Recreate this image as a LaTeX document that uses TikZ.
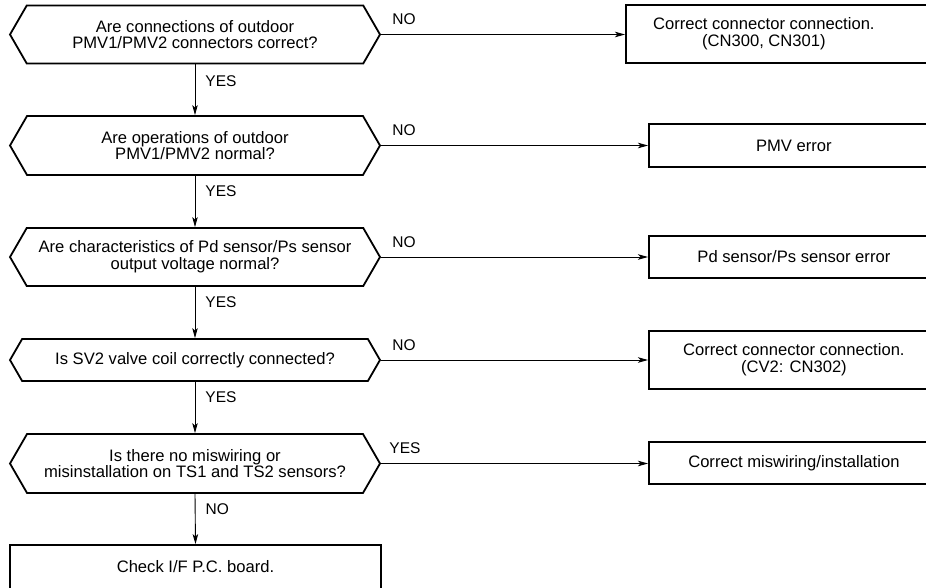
\documentclass[tikz,border=0pt]{standalone}
\usepackage{fontspec}
\setmainfont{Liberation Sans}
\usepackage{tikz}
\usetikzlibrary{shapes.symbols,arrows.meta,positioning,calc}

\begin{document}
\begin{tikzpicture}[
    x=1pt, y=-1pt,
    font=\fontsize{16.6pt}{16.8pt}\selectfont,
    every node/.style={align=center},
    quest/.style={shape=signal, signal to=west and east, signal pointer angle=120, draw, line width=1.8pt, minimum width=370pt, inner sep=2pt},
    act/.style={rectangle, draw, line width=1.8pt, minimum width=290pt, anchor=west, inner sep=2pt},
    arr/.style={-{Stealth[length=10pt,width=5.5pt,inset=2.5pt]}, line width=0.9pt},
    ans/.style={inner sep=0pt, font=\fontsize{15.5pt}{16pt}\selectfont},
    side/.style={ans, pos=0, anchor=south west, xshift=11pt, yshift=9pt},
    down/.style={ans, pos=0.3, right=10pt}
]
    \useasboundingbox (0,0) rectangle (926,587);

    % questions
    \node[quest, minimum height=58pt] (q1) at (195,34.5) {Are connections of outdoor\\PMV1/PMV2 connectors correct?};
    \node[quest, minimum height=59pt] (q2) at (195,145.5) {Are operations of outdoor\\PMV1/PMV2 normal?};
    \node[quest, minimum height=58pt] (q3) at (195,257) {Are characteristics of Pd sensor/Ps sensor\\output voltage normal?};
    \node[quest, minimum height=42pt] (q4) at (195,360) {Is SV2 valve coil correctly connected?};
    \node[quest, minimum height=59pt] (q5) at (195,463.5) {Is there no miswiring or\\misinstallation on TS1 and TS2 sensors?};
    \node[act, minimum width=0pt, inner xsep=0pt, minimum height=44pt, anchor=center] (chk) at (195.5,567) {\makebox[371pt]{Check I/F P.C. board.}};

    % outcomes
    \node[act, minimum width=0pt, inner xsep=0pt, minimum height=58pt] (r1) at (625,34) {\parbox{276pt}{\centering Correct connector connection.\\(CN300, CN301)}\hspace*{34pt}};
    \node[act, minimum height=43pt] (r2) at (648,145.5) {PMV error};
    \node[act, minimum height=42pt] (r3) at (648,257) {Pd sensor/Ps sensor error};
    \node[act, minimum height=58pt] (r4) at (648,360) {Correct connector connection.\\(CV2: CN302)};
    \node[act, minimum height=42pt] (r5) at (648,463) {Correct miswiring/installation};

    % main line
    \draw[arr] (q1.south) -- node[down, pos=0.34] {YES} (q2.north);
    \draw[arr] (q2.south) -- node[down] {YES} (q3.north);
    \draw[arr] (q3.south) -- node[down] {YES} (q4.north);
    \draw[arr] (q4.south) -- node[down] {YES} (q5.north);
    \draw[arr] (q5.south) -- node[down] {NO} (chk.north);

    % branches
    \draw[arr] (q1.east) -- node[side] {NO} (q1.east -| r1.west);
    \draw[arr] (q2.east) -- node[side] {NO} (r2.west);
    \draw[arr] (q3.east) -- node[side] {NO} (r3.west);
    \draw[arr] (q4.east) -- node[side] {NO} (r4.west);
    \draw[arr] (q5.east) -- node[side, xshift=-3pt] {YES} (q5.east -| r5.west);
\end{tikzpicture}
\end{document}
